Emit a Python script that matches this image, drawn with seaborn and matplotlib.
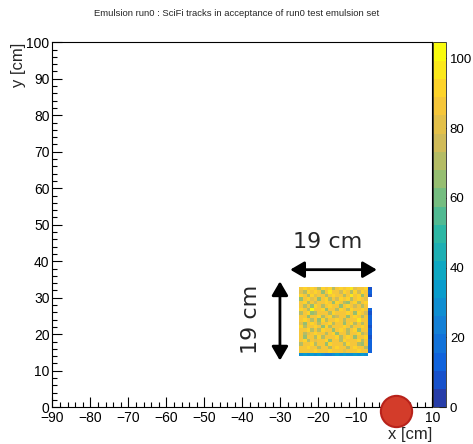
import numpy as np
import pandas as pd
import matplotlib
matplotlib.use("Agg")
import matplotlib.pyplot as plt
from matplotlib.colors import LinearSegmentedColormap, ListedColormap
import seaborn as sns

title = "Emulsion run0 : SciFi tracks in acceptance of run0 test emulsion set"

# binning of the 2D histogram (cm)
x_lo, x_hi = -25, -6
y_lo, y_hi = 14, 33
n_bins = 20
zmax = 104.6

# track counts per bin, top row (y=33) first, nan = empty bin
counts = [
    [86, 90, 84, 92, 88, 68, 94, 86, 90, 70, 88, 92, 84, 90, 96, 82, 88, 86, 91, 9],
    [82, 70, 90, 86, 93, 85, 66, 88, 95, 86, 84, 74, 92, 86, 68, 90, 78, 93, 85, 11],
    [90, 84, 68, 94, 80, 88, 86, 72, 84, 92, 88, 85, 70, 88, 96, 84, 90, 66, 86, 8],
    [66, 86, 90, 83, 87, 64, 88, 92, 70, 86, 74, 90, 86, 91, 72, 85, 92, 86, 83, np.nan],
    [86, 92, 68, 88, 76, 86, 84, 90, 87, 66, 92, 84, 72, 64, 86, 89, 70, 88, 90, np.nan],
    [84, 72, 88, 64, 90, 84, 70, 86, 92, 84, 88, 66, 85, 90, 84, 74, 88, 68, 85, np.nan],
    [90, 86, 68, 103, 84, 88, 92, 64, 86, 88, 70, 90, 86, 68, 92, 86, 84, 90, 88, 12],
    [70, 88, 90, 64, 68, 86, 84, 88, 72, 92, 86, 84, 88, 92, 86, 66, 90, 86, 74, 10],
    [86, 84, 64, 88, 86, 92, 70, 86, 90, 68, 74, 88, 86, 64, 88, 90, 86, 70, 88, 11],
    [88, 90, 86, 70, 88, 64, 89, 68, 84, 88, 92, 86, 68, 88, 84, 86, 98, 88, 84, 12],
    [82, 66, 88, 90, 84, 68, 88, 86, 92, 70, 86, 88, 64, 86, 90, 72, 88, 68, 86, 13],
    [90, 68, 84, 86, 92, 88, 64, 90, 70, 86, 88, 84, 90, 88, 68, 86, 84, 90, 85, 10],
    [86, 88, 90, 68, 84, 70, 92, 84, 88, 64, 86, 90, 84, 70, 88, 92, 66, 86, 88, 11],
    [84, 70, 80, 88, 90, 84, 86, 68, 84, 90, 64, 86, 88, 68, 84, 88, 90, 70, 82, 12],
    [88, 64, 86, 84, 68, 90, 70, 86, 88, 84, 90, 68, 84, 90, 86, 64, 86, 88, 90, 10],
    [86, 90, 68, 86, 80, 88, 86, 90, 64, 88, 86, 70, 90, 86, 88, 84, 92, 68, 84, 12],
    [68, 86, 84, 90, 70, 86, 84, 64, 90, 86, 88, 84, 68, 90, 84, 88, 70, 66, 88, 13],
    [88, 84, 92, 86, 84, 68, 88, 86, 70, 88, 90, 86, 88, 68, 86, 90, 84, 88, 70, 11],
    [86, 88, 84, 88, 90, 86, 84, 88, 92, 86, 84, 88, 82, 86, 88, 84, 90, 86, 84, 12],
    [30, 32, 29, 34, 31, 33, 30, 24, 22, 31, 34, 30, 33, 31, 29, 32, 30, 33, 31, np.nan],
]

# target marker and size annotations
circle_x, circle_y = 0.5, -1.0
h_arrow = (-27.4, -4.6, 37.7)
v_arrow = (-30.1, 12.8, 34.5)
h_label = (-17.6, 45.3)
v_label = (-37.7, 24.2)

# ROOT kBird palette, 20 contour levels
bird_r = [0.2082, 0.0592, 0.0780, 0.0232, 0.1802, 0.5301, 0.8186, 0.9956, 0.9764]
bird_g = [0.1664, 0.3599, 0.5041, 0.6419, 0.7178, 0.7492, 0.7328, 0.7862, 0.9832]
bird_b = [0.5293, 0.8684, 0.8385, 0.7914, 0.6425, 0.4662, 0.3499, 0.1968, 0.0539]
bird = LinearSegmentedColormap.from_list(
    "bird", list(zip(np.linspace(0, 1, 9), zip(bird_r, bird_g, bird_b))))
n_cont = 20
palette = ListedColormap([bird((i + 0.99) / n_cont) for i in range(n_cont)])

# long table for histplot
x_edges = np.linspace(x_lo, x_hi, n_bins + 1)
y_edges = np.linspace(y_lo, y_hi, n_bins + 1)
x_mid = (x_edges[:-1] + x_edges[1:]) / 2
y_mid = (y_edges[:-1] + y_edges[1:]) / 2
grid = np.array(counts, dtype=float)[::-1]
rows = []
for j, yc in enumerate(y_mid):
    for i, xc in enumerate(x_mid):
        if not np.isnan(grid[j, i]):
            rows.append((xc, yc, grid[j, i]))
df = pd.DataFrame(rows, columns=["x", "y", "n"])

sns.set_style("ticks")
plt.rcParams["font.family"] = ["Liberation Sans", "DejaVu Sans"]

fig = plt.figure(figsize=(4.73, 4.44), dpi=100)
ax = fig.add_axes([0.1106, 0.0827, 0.8034, 0.8221])
cax = fig.add_axes([0.9161, 0.0827, 0.0262, 0.8221])

sns.histplot(data=df, x="x", y="y", weights="n", bins=n_bins,
             binrange=((x_lo, x_hi), (y_lo, y_hi)), cmap=palette,
             vmin=0, vmax=zmax, cbar=True, cbar_ax=cax,
             cbar_kws={"ticks": [0, 20, 40, 60, 80, 100]}, ax=ax)

ax.set_xlim(-90, 10)
ax.set_ylim(0, 100)
ax.set_xticks(np.arange(-90, 11, 10))
ax.set_xticks(np.arange(-90, 11, 2), minor=True)
ax.set_yticks(np.arange(0, 101, 10))
ax.set_yticks(np.arange(0, 101, 2), minor=True)
ax.tick_params(which="both", direction="in", top=False, right=False,
               colors="black", labelsize=10, width=0.8)
ax.tick_params(which="major", length=7.5, pad=3)
ax.tick_params(which="minor", length=3.8)
ax.tick_params(axis="y", pad=2)
for s in ax.spines.values():
    s.set_color("black")
    s.set_linewidth(0.8)

ax.set_xlabel("x [cm]", loc="right", fontsize=12)
ax.xaxis.set_label_coords(1.0, -0.055)
ax.set_ylabel("y [cm]", loc="top", fontsize=12)
ax.yaxis.set_label_coords(-0.07, 1.0)

cax.tick_params(direction="in", length=5, width=0.8, labelsize=9.5, pad=3,
                colors="black")
cax.minorticks_off()
for s in cax.spines.values():
    s.set_linewidth(0.6)

ax.plot([circle_x], [circle_y], marker="o", ms=22.5, mfc="#d33c2a",
        mec="#b8221a", mew=1.5, clip_on=False, zorder=10)

arrow_kw = dict(arrowstyle="<|-|>,head_length=0.6,head_width=0.35",
                color="black", lw=2, shrinkA=0, shrinkB=0, mutation_scale=14)
ax.annotate("", xy=(h_arrow[1], h_arrow[2]), xytext=(h_arrow[0], h_arrow[2]),
            arrowprops=arrow_kw)
ax.annotate("", xy=(v_arrow[0], v_arrow[2]), xytext=(v_arrow[0], v_arrow[1]),
            arrowprops=arrow_kw)
ax.text(h_label[0], h_label[1], "19 cm", fontsize=16, ha="center",
        va="center", family="DejaVu Sans")
ax.text(v_label[0], v_label[1], "19 cm", fontsize=16, ha="center",
        va="center", rotation=90, family="DejaVu Sans")

fig.text(0.5, 1 - 13 / 444, title, ha="center", va="center", fontsize=6.8)

fig.savefig("out.png", dpi=100)
